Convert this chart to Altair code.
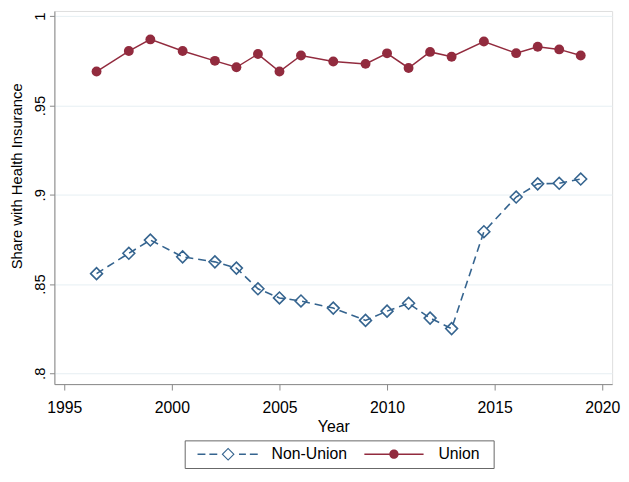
import altair as alt
import pandas as pd

years = [1996.5, 1998, 1999, 2000.5, 2002, 2003, 2004, 2005, 2006, 2007.5,
         2009, 2010, 2011, 2012, 2013, 2014.5, 2016, 2017, 2018, 2019]
union = [0.969, 0.9805, 0.987, 0.9805, 0.975, 0.9714, 0.9788, 0.969, 0.978, 0.9746,
         0.9733, 0.9792, 0.971, 0.980, 0.9773, 0.9858, 0.9793, 0.9829, 0.9814, 0.978]
nonunion = [0.8558, 0.8672, 0.8746, 0.8652, 0.8624, 0.8589, 0.8473, 0.8422, 0.8405, 0.8365,
            0.8296, 0.8348, 0.8392, 0.8309, 0.825, 0.8793, 0.8987, 0.9061, 0.9064, 0.9088]
series_names = ["Non-Union", "Union"]
x_ticks = [1995, 2000, 2005, 2010, 2015, 2020]
y_ticks = [0.8, 0.85, 0.9, 0.95, 1.0]

BLUE = "#35648F"
MAROON = "#922B3E"
FONT = "Liberation Sans"

df = pd.DataFrame({
    "Year": years * 2,
    "value": nonunion + union,
    "series": [series_names[0]] * len(years) + [series_names[1]] * len(years),
})

xs = alt.Scale(domain=[1994.541, 2020.459], nice=False, zero=False)
ys = alt.Scale(domain=[0.79392, 1.00293], nice=False, zero=False)

xenc = alt.X("Year:Q", scale=xs, axis=alt.Axis(
    values=x_ticks, format="d", title="Year", grid=False,
    labelFontSize=16, titleFontSize=16, tickSize=6, labelPadding=10,
    titlePadding=3, titleFontWeight="normal"))
yenc = alt.Y("value:Q", scale=ys, axis=alt.Axis(
    values=y_ticks, title="Share with Health Insurance",
    labelExpr="datum.value == 1 ? '1' : replace(format(datum.value, '.2~f'), '0.', '.')",
    labelAngle=270, labelFontSize=15, titleFontSize=15, tickSize=5, labelPadding=2,
    titleFontWeight="normal", titleX=-38, titleY=167, titleBaseline="middle",
    grid=True, gridColor="#E6EFF3", gridWidth=1))

base = alt.Chart(df)

nu_line = base.transform_filter(alt.datum.series == "Non-Union").mark_line(
    color=BLUE, strokeDash=[8, 5], strokeWidth=1.6).encode(x=xenc, y=yenc)
u_line = base.transform_filter(alt.datum.series == "Union").mark_line(
    color=MAROON, strokeWidth=1.5).encode(x=xenc, y=yenc)
nu_pts = base.transform_filter(alt.datum.series == "Non-Union").mark_point(
    shape="diamond", filled=False, size=144, strokeWidth=1.6, color=BLUE, opacity=1
).encode(x=xenc, y=yenc)
u_pts = base.transform_filter(alt.datum.series == "Union").mark_point(
    shape="circle", filled=True, size=100, color=MAROON, opacity=1
).encode(x=xenc, y=yenc)

# legend symbols as custom paths (unit scale: symbolSize 4 -> scale 1)
nu_path = ("M-1 -0.8 H7 V0.8 H-1 Z "
           "M11 -0.8 H19 V0.8 H11 Z "
           "M30 -6.6 L36.6 0 L30 6.6 L23.4 0 Z "
           "M30 -5 L25 0 L30 5 L35 0 Z "
           "M41 -0.8 H48 V0.8 H41 Z "
           "M52 -0.8 H60 V0.8 H52 Z")
u_path = ("M-1 -0.8 H59 V0.8 H-1 Z "
          "M33.7 0 A4.7 4.7 0 1 1 24.3 0 A4.7 4.7 0 1 1 33.7 0 Z "
          "M124 0")

legend_layer = base.transform_filter("false").mark_point(filled=True, opacity=1).encode(
    color=alt.Color("series:N", scale=alt.Scale(domain=series_names, range=[BLUE, MAROON]),
                    legend=alt.Legend(
                        title=None, orient="none", legendX=132, legendY=435,
                        direction="horizontal", padding=6, strokeColor="#666666",
                        symbolSize=4, symbolStrokeWidth=0, symbolOpacity=1,
                        labelOffset=66, columnPadding=10,
                        labelFont=FONT, labelFontSize=16, labelColor="black")),
    shape=alt.Shape("series:N", scale=alt.Scale(domain=series_names, range=[nu_path, u_path])),
)

chart = alt.layer(nu_line, u_line, nu_pts, u_pts, legend_layer).properties(
    width=565, height=378,
    autosize=alt.AutoSizeParams(type="none"),
    padding={"left": 47, "top": 0, "right": 9, "bottom": 84},
).configure_view(stroke=None).configure_axis(
    labelFont=FONT, titleFont=FONT, labelColor="black", titleColor="black",
    domainColor="#555555", tickColor="#555555", domainWidth=1.2, tickWidth=1.2,
).configure(font=FONT)

chart.save("out.html", embed_options={"renderer": "svg", "actions": False})
